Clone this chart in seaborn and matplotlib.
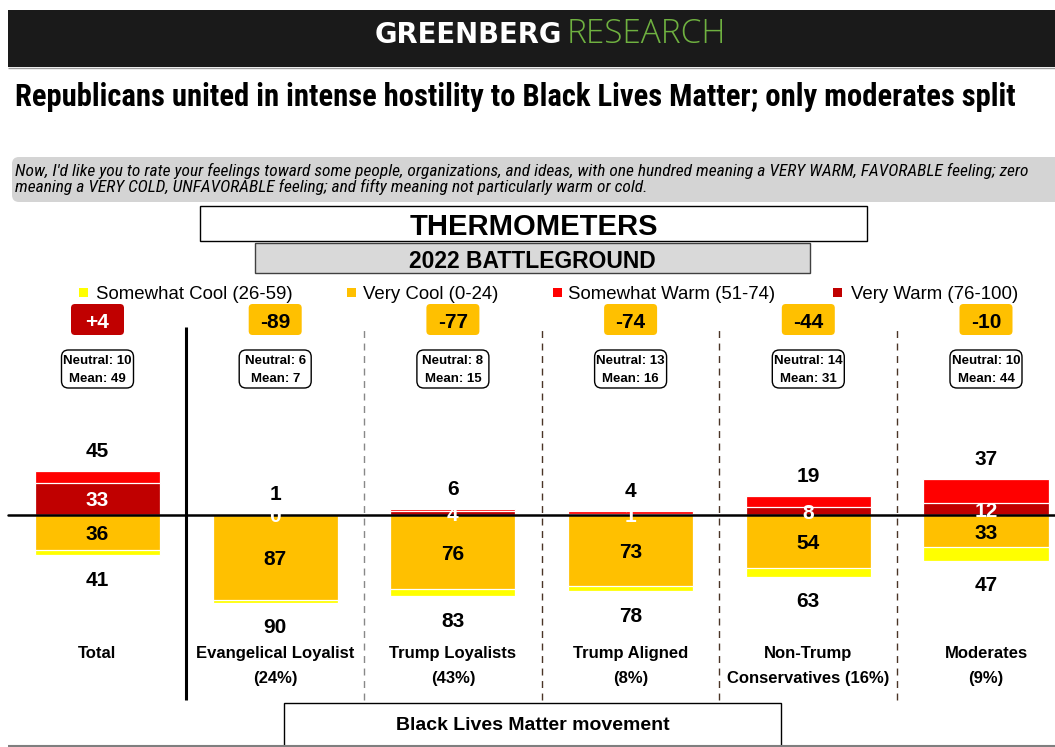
import numpy as np
import pandas as pd
import seaborn as sns
import matplotlib
matplotlib.use("Agg")
import matplotlib.pyplot as plt
from matplotlib.patches import FancyBboxPatch, Rectangle
from matplotlib import font_manager

# ---------------- data ----------------
groups = ["Total", "Evangelical Loyalist\n(24%)", "Trump Loyalists\n(43%)",
          "Trump Aligned\n(8%)", "Non-Trump\nConservatives (16%)", "Moderates\n(9%)"]
very_warm = [33, 0, 4, 1, 8, 12]
somewhat_warm = [12, 1, 2, 3, 11, 25]
very_cool = [36, 87, 76, 73, 54, 33]
somewhat_cool = [5, 3, 7, 5, 9, 14]
neutral = [10, 6, 8, 13, 14, 10]
mean_score = [49, 7, 15, 16, 31, 44]
legend_labels = ["Somewhat Cool (26-59)", "Very Cool (0-24)",
                 "Somewhat Warm (51-74)", "Very Warm (76-100)"]
title = "Republicans united in intense hostility to Black Lives Matter; only moderates split"
question = ["Now, I'd like you to rate your feelings toward some people, organizations, and ideas, "
            "with one hundred meaning a VERY WARM, FAVORABLE feeling; zero",
            "meaning a VERY COLD, UNFAVORABLE feeling; and fifty meaning not particularly warm or cold."]
header_main = "THERMOMETERS"
header_sub = "2022 BATTLEGROUND"
item = "Black Lives Matter movement"

C_SC, C_VC, C_SW, C_VW = "#ffff00", "#ffc000", "#ff0000", "#c00000"
legend_colors = [C_SC, C_VC, C_SW, C_VW]

# ---------------- setup ----------------
W, H = 1055, 747
sns.set_theme(style="white")
plt.rcParams["font.family"] = ["Liberation Sans", "DejaVu Sans"]
plt.rcParams["text.color"] = "black"

# look for a condensed face (for the condensed title / question text)
entries = font_manager.fontManager.ttflist
names = {f.name for f in entries}
NARROW, STRETCH = "Liberation Sans", "normal"
for cand in ["Liberation Sans Narrow", "Roboto Condensed", "Open Sans Condensed",
             "DejaVu Sans Condensed", "Noto Sans Condensed"]:
    if cand in names:
        NARROW = cand
        break
else:
    for f in entries:
        if str(f.stretch) in ("condensed", "semi-condensed", "extra-condensed") or \
                (isinstance(f.stretch, int) and f.stretch < 500):
            NARROW, STRETCH = f.name, "condensed"
            break

# a light face for the thin part of the logo, if one is installed
LIGHT_FAMILY, LIGHT_WEIGHT = "DejaVu Sans", "normal"
for f in entries:
    if f.name in ("Roboto", "Open Sans", "Noto Sans") and isinstance(f.weight, int) \
            and 250 <= f.weight <= 350 and f.style == "normal":
        LIGHT_FAMILY, LIGHT_WEIGHT = f.name, f.weight
        break

fig = plt.figure(figsize=(W / 100, H / 100), dpi=100)
fig.patch.set_facecolor("white")
ov = fig.add_axes([0, 0, 1, 1], zorder=0)
ov.set_xlim(0, W)
ov.set_ylim(H, 0)
ov.axis("off")
ax = fig.add_axes([0, 0, 1, 1], zorder=1)

renderer = fig.canvas.get_renderer()


def fit(t, target_w):
    w = t.get_window_extent(renderer).width
    t.set_fontsize(t.get_fontsize() * target_w / w)
    return t


# layout constants (pixels)
X0, PX = 97.5, 177.7      # first group centre and group pitch
ZERO, PY = 515, 0.977     # zero line pixel row and pixels per unit
BAR_W = 125 / PX

df = pd.DataFrame({"group": groups, "very_warm": very_warm, "somewhat_warm": somewhat_warm,
                   "very_cool": very_cool, "somewhat_cool": somewhat_cool})
df["warm"] = df.very_warm + df.somewhat_warm
df["cool"] = df.very_cool + df.somewhat_cool
df["neg_cool"] = -df.cool
df["neg_vc"] = -df.very_cool
df["net"] = df.warm - df.cool

for col, c in [("warm", C_SW), ("very_warm", C_VW), ("neg_cool", C_SC), ("neg_vc", C_VC)]:
    sns.barplot(data=df, x="group", y=col, order=groups, color=c, saturation=1,
                width=BAR_W, errorbar=None, edgecolor="white", linewidth=0.9,
                ax=ax, zorder=2)

ax.set_xlim(-X0 / PX, (W - X0) / PX)
ax.set_ylim(-(H - ZERO) / PY, ZERO / PY)
ax.axis("off")


def dy(py):
    return (ZERO - py) / PY


def gx(i):
    return X0 + PX * i


n = len(groups)
# zero line and separators
ax.axhline(0, xmin=8 / W, xmax=1, color="black", lw=1.8, zorder=4)
ax.vlines(0.5, dy(700), dy(327), colors="black", lw=2.2, zorder=3)
for k in range(1, n - 1):
    ax.vlines(k + 0.5, dy(700), dy(327), colors="#888888" if k == 1 else "#4a3426",
              linestyles=(0, (5, 4)), lw=1.0, zorder=3)

num_kw = dict(ha="center", va="center_baseline", fontsize=15, fontweight="bold", zorder=5)
for i, r in df.iterrows():
    ax.text(i, r.warm + 22, f"{r.warm}", color="black", **num_kw)
    ax.text(i, -(r.cool + 23.5), f"{r.cool}", color="black", **num_kw)
    ax.text(i, r.very_warm / 2, f"{r.very_warm}", color="white", **num_kw)
    ax.text(i, -r.very_cool / 2, f"{r.very_cool}", color="black", **num_kw)

    cx = gx(i)
    # net badge
    badge_c = C_VW if r.net > 0 else C_VC
    ov.add_patch(FancyBboxPatch((cx - 26.5, 304), 53, 31,
                                boxstyle="round,pad=0,rounding_size=4",
                                fc=badge_c, ec="none", zorder=2))
    ov.text(cx, 320, f"{r.net:+d}", ha="center", va="center_baseline", fontsize=15,
            fontweight="bold", color="white" if r.net > 0 else "black", zorder=3)
    # neutral / mean box
    ov.add_patch(FancyBboxPatch((cx - 36, 350), 72, 38,
                                boxstyle="round,pad=0,rounding_size=7",
                                fc="white", ec="black", lw=1.0, zorder=2))
    ov.text(cx, 360, f"Neutral: {neutral[i]}", ha="center", va="center_baseline",
            fontsize=9.5, fontweight="bold", zorder=3)
    ov.text(cx, 378, f"Mean: {mean_score[i]}", ha="center", va="center_baseline",
            fontsize=9.5, fontweight="bold", zorder=3)
    # category labels
    for j, line in enumerate(groups[i].split("\n")):
        ov.text(cx, 652 + 25 * j, line, ha="center", va="center_baseline",
                fontsize=12, fontweight="bold", zorder=3)

# ---------------- header / decorations ----------------
ov.add_patch(Rectangle((8, 10), W - 8, 57, fc="#1a1a1a", ec="none"))
ov.hlines(68, 8, W, color="#a0a0a0", lw=1)
t = ov.text(562, 43, "GREENBERG", ha="right", va="baseline", color="white",
            fontweight="heavy", family=["DejaVu Sans"], fontsize=17)
fit(t, 188)
t = ov.text(567, 43, "RESEARCH", ha="left", va="baseline", color="#6fb140",
            fontweight=LIGHT_WEIGHT, family=[LIGHT_FAMILY, "DejaVu Sans"], fontsize=17)
fit(t, 159)

t = ov.text(15, 106, title, ha="left", va="baseline", fontweight="bold",
            family=[NARROW, "DejaVu Sans"], fontstretch=STRETCH, fontsize=19)
fit(t, 1003)

ov.add_patch(FancyBboxPatch((12, 157), W, 45, boxstyle="round,pad=0,rounding_size=7",
                            fc="#d4d4d4", ec="none"))
q1 = ov.text(15, 176, question[0], ha="left", va="baseline", style="italic",
             family=[NARROW, "DejaVu Sans"], fontstretch=STRETCH, fontsize=11)
fit(q1, 1007)
ov.text(15, 192, question[1], ha="left", va="baseline", style="italic",
        family=[NARROW, "DejaVu Sans"], fontstretch=STRETCH, fontsize=q1.get_fontsize())

ov.add_patch(Rectangle((200, 206), 667, 35, fc="white", ec="black", lw=1))
ov.text(533.5, 224, header_main, ha="center", va="center_baseline", fontsize=21,
        fontweight="bold")
ov.add_patch(Rectangle((255, 243), 555, 30, fc="#d9d9d9", ec="#404040", lw=1))
ov.text(532.5, 258.5, header_sub, ha="center", va="center_baseline", fontsize=16.5,
        fontweight="bold")

# legend
for sx, tx, lab, col in zip([79, 347, 553, 833], [96, 363, 568, 851],
                            legend_labels, legend_colors):
    ov.add_patch(Rectangle((sx, 288), 9, 9, fc=col, ec="none"))
    ov.text(tx, 292.5, lab, ha="left", va="center_baseline", fontsize=13.4)

# item box
ov.add_patch(Rectangle((284, 703), 497, 60, fc="white", ec="black", lw=1))
ov.text(532.5, 724, item, ha="center", va="center_baseline", fontsize=14, fontweight="bold")
ov.hlines(746, 8, W, color="#7f7f7f", lw=1.5)

fig.savefig("out.png", dpi=100)
